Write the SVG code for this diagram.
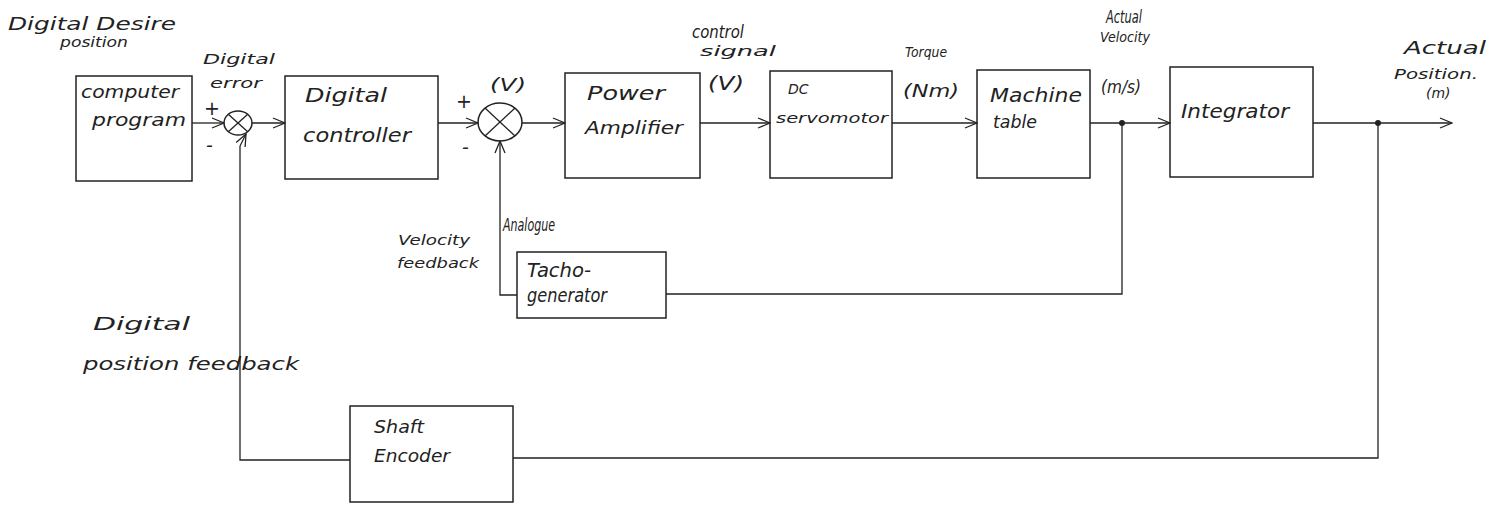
<svg xmlns="http://www.w3.org/2000/svg" width="1505" height="505" viewBox="0 0 1505 505">
<defs>
<style>
.box{fill:none;stroke:#222;stroke-width:1.5}
.ln{fill:none;stroke:#222;stroke-width:1.3}
.arr{marker-end:url(#ah)}
text{font-family:"DejaVu Sans","Liberation Sans",sans-serif;font-style:italic;fill:#222}
.t{font-size:17px}
.s{font-size:14px}
.b{font-size:19px}
</style>
<marker id="ah" markerWidth="14" markerHeight="12" refX="13" refY="6" orient="auto" markerUnits="userSpaceOnUse">
<path d="M1,1 L13,6 L1,11" fill="none" stroke="#222" stroke-width="1.3"/>
</marker>
</defs>
<rect width="1505" height="505" fill="#fff"/>

<g id="labels-free">
<text class="t" x="8" y="30" textLength="168" lengthAdjust="spacingAndGlyphs">Digital Desire</text>
<text class="s" x="60" y="47" textLength="68" lengthAdjust="spacingAndGlyphs">position</text>
<text class="s" x="203" y="64" textLength="72" lengthAdjust="spacingAndGlyphs">Digital</text>
<text class="s" x="210" y="88" textLength="52" lengthAdjust="spacingAndGlyphs">error</text>
<text class="b" x="204" y="115">+</text>
<text class="b" x="206" y="152">-</text>
<text class="t" x="490" y="91" textLength="36" lengthAdjust="spacingAndGlyphs">(V)</text>
<text class="b" x="456" y="108">+</text>
<text class="b" x="462" y="154">-</text>
<text class="t" x="692" y="38" textLength="52" lengthAdjust="spacingAndGlyphs">control</text>
<text class="s" x="700" y="56" textLength="76" lengthAdjust="spacingAndGlyphs">signal</text>
<text class="b" x="708" y="90" textLength="36" lengthAdjust="spacingAndGlyphs">(V)</text>
<text class="s" x="905" y="57" textLength="42" lengthAdjust="spacingAndGlyphs">Torque</text>
<text class="t" x="903" y="97" textLength="56" lengthAdjust="spacingAndGlyphs">(Nm)</text>
<text class="t" x="1106" y="23" textLength="36" lengthAdjust="spacingAndGlyphs">Actual</text>
<text class="s" x="1100" y="42" textLength="50" lengthAdjust="spacingAndGlyphs">Velocity</text>
<text class="t" x="1101" y="93" textLength="40" lengthAdjust="spacingAndGlyphs">(m/s)</text>
<text class="t" x="1404" y="54" textLength="82" lengthAdjust="spacingAndGlyphs">Actual</text>
<text class="s" x="1394" y="79" textLength="84" lengthAdjust="spacingAndGlyphs">Position.</text>
<text class="s" x="1426" y="98">(m)</text>
<text class="s" x="398" y="245" textLength="72" lengthAdjust="spacingAndGlyphs">Velocity</text>
<text class="s" x="397" y="268" textLength="82" lengthAdjust="spacingAndGlyphs">feedback</text>
<text class="t" x="503" y="231" textLength="52" lengthAdjust="spacingAndGlyphs">Analogue</text>
<text class="t" x="93" y="330" textLength="97" lengthAdjust="spacingAndGlyphs">Digital</text>
<text class="t" x="83" y="370" textLength="216" lengthAdjust="spacingAndGlyphs">position feedback</text>
</g>

<g id="connectors">
<line class="ln arr" x1="192" y1="123" x2="224" y2="123"/>
<line class="ln arr" x1="252" y1="123" x2="285" y2="123"/>
<line class="ln arr" x1="438" y1="123" x2="478" y2="123"/>
<line class="ln arr" x1="522" y1="123" x2="565" y2="123"/>
<line class="ln arr" x1="700" y1="123" x2="770" y2="123"/>
<line class="ln arr" x1="892" y1="123" x2="977" y2="123"/>
<line class="ln arr" x1="1090" y1="123" x2="1170" y2="123"/>
<line class="ln arr" x1="1313" y1="123" x2="1452" y2="123"/>
<polyline class="ln" points="1122,123 1122,294 666,294"/>
<polyline class="ln arr" points="517,295 500,295 500,141"/>
<polyline class="ln" points="1378,123 1378,458 513,458"/>
<polyline class="ln" points="350,460 240,460 240,146"/>
<line class="ln arr" x1="240" y1="146" x2="246" y2="134"/>
<circle cx="1122" cy="123" r="3" fill="#222"/>
<circle cx="1378" cy="123" r="3" fill="#222"/>
</g>

<g id="sum1">
<ellipse class="box" cx="238" cy="123" rx="14" ry="12"/>
<line class="ln" x1="228" y1="114" x2="248" y2="132"/>
<line class="ln" x1="248" y1="114" x2="228" y2="132"/>
</g>
<g id="sum2">
<ellipse class="box" cx="500" cy="122" rx="22" ry="19"/>
<line class="ln" x1="485" y1="108" x2="515" y2="136"/>
<line class="ln" x1="515" y1="108" x2="485" y2="136"/>
</g>

<g id="computer-program">
<rect class="box" x="76" y="76" width="116" height="105"/>
<text class="t" x="81" y="98" textLength="98" lengthAdjust="spacingAndGlyphs">computer</text>
<text class="t" x="92" y="126" textLength="94" lengthAdjust="spacingAndGlyphs">program</text>
</g>
<g id="digital-controller">
<rect class="box" x="285" y="76" width="153" height="103"/>
<text class="b" x="305" y="102" textLength="82" lengthAdjust="spacingAndGlyphs">Digital</text>
<text class="b" x="303" y="142" textLength="108" lengthAdjust="spacingAndGlyphs">controller</text>
</g>
<g id="power-amplifier">
<rect class="box" x="565" y="73" width="135" height="105"/>
<text class="b" x="587" y="100" textLength="78" lengthAdjust="spacingAndGlyphs">Power</text>
<text class="t" x="585" y="134" textLength="98" lengthAdjust="spacingAndGlyphs">Amplifier</text>
</g>
<g id="dc-servomotor">
<rect class="box" x="770" y="71" width="122" height="107"/>
<text class="s" x="788" y="94">DC</text>
<text class="s" x="776" y="123" textLength="112" lengthAdjust="spacingAndGlyphs">servomotor</text>
</g>
<g id="machine-table">
<rect class="box" x="977" y="70" width="113" height="108"/>
<text class="b" x="990" y="102" textLength="92" lengthAdjust="spacingAndGlyphs">Machine</text>
<text class="t" x="993" y="128" textLength="44" lengthAdjust="spacingAndGlyphs">table</text>
</g>
<g id="integrator">
<rect class="box" x="1170" y="67" width="143" height="110"/>
<text class="b" x="1181" y="118" textLength="108" lengthAdjust="spacingAndGlyphs">Integrator</text>
</g>
<g id="tacho-generator">
<rect class="box" x="517" y="252" width="149" height="66"/>
<text class="b" x="527" y="277" textLength="64" lengthAdjust="spacingAndGlyphs">Tacho-</text>
<text class="b" x="527" y="302" textLength="80" lengthAdjust="spacingAndGlyphs">generator</text>
</g>
<g id="shaft-encoder">
<rect class="box" x="350" y="406" width="163" height="96"/>
<text class="t" x="374" y="433" textLength="50" lengthAdjust="spacingAndGlyphs">Shaft</text>
<text class="t" x="374" y="462" textLength="76" lengthAdjust="spacingAndGlyphs">Encoder</text>
</g>
</svg>
